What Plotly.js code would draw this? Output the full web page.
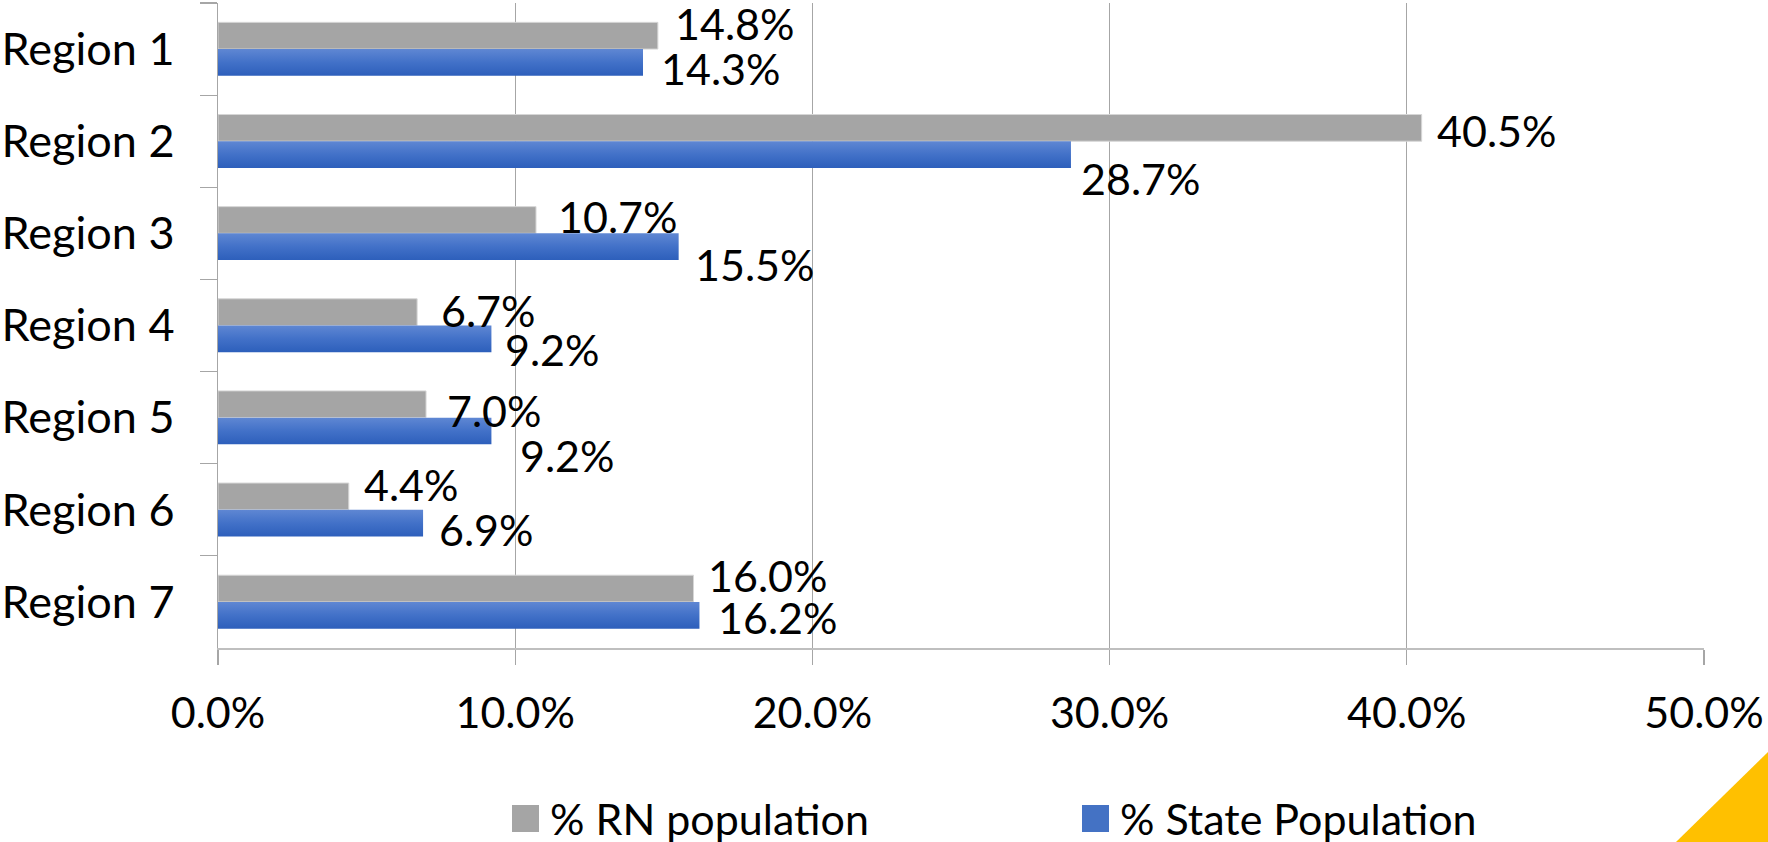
<!DOCTYPE html>
<html>
<head>
<meta charset="utf-8">
<script src="https://cdn.plot.ly/plotly-3.0.1.min.js"></script>
<style>
  html, body { margin: 0; padding: 0; background: #ffffff; }
  #chart { width: 1768px; height: 842px; }
</style>
</head>
<body>
<div id="chart"></div>
<script>
// ---------------- data ----------------
const categories = ['Region 1', 'Region 2', 'Region 3', 'Region 4', 'Region 5', 'Region 6', 'Region 7'];
const seriesNames = ['% RN population', '% State Population'];
const rnPopulation = [14.8, 40.5, 10.7, 6.7, 7.0, 4.4, 16.0];
const statePopulation = [14.3, 28.7, 15.5, 9.2, 9.2, 6.9, 16.2];
const xTickValues = [0, 10, 20, 30, 40, 50];

// ---------------- label placement (style, in pixels) ----------------
const rnLabelXShift = [15.5, 13.5, 19.5, 21.5, 18.5, 13.5, 12.5];
const rnLabelYShift = [12, -2.5, 3.5, 1.5, -6, 11.5, 13.5];
const stLabelXShift = [15.5, 8.5, 14.5, 11.5, 26.5, 13.5, 16.5];
const stLabelYShift = [-6.5, -23.5, -17.5, -10.5, -24.5, -6.5, -2];

// ---------------- style ----------------
const W = 1768, H = 842;
const M = { l: 218, r: 64, t: 3, b: 194 };
const plotW = W - M.l - M.r, plotH = H - M.t - M.b;
const BARGAP = 0.42;
const FONT = 'Lato, "Open Sans", "Liberation Sans", sans-serif';
const FS = 43;
const GRAY = '#A5A5A5', BLUE = '#4472C4', GRID = '#A6A6A6';

const px2x = px => (px - M.l) / plotW;
const px2y = py => (H - M.b - py) / plotH;

const fmt = v => v.toFixed(1) + '%';

const data = [
  {
    type: 'bar', orientation: 'h', name: seriesNames[0],
    y: categories, x: rnPopulation,
    marker: { color: GRAY, line: { color: '#D6D6D6', width: 1 } },
    hoverinfo: 'skip'
  },
  {
    type: 'bar', orientation: 'h', name: seriesNames[1],
    y: categories, x: statePopulation,
    marker: { color: BLUE, line: { width: 0 } },
    hoverinfo: 'skip'
  }
];

const half = (1 - BARGAP) / 4;
const annotations = [];
categories.forEach((c, i) => {
  annotations.push({
    xref: 'x', yref: 'y', x: rnPopulation[i], y: i - half,
    text: fmt(rnPopulation[i]), showarrow: false,
    xanchor: 'left', yanchor: 'middle',
    xshift: rnLabelXShift[i], yshift: rnLabelYShift[i],
    font: { family: FONT, size: FS, color: '#000' }
  });
  annotations.push({
    xref: 'x', yref: 'y', x: statePopulation[i], y: i + half,
    text: fmt(statePopulation[i]), showarrow: false,
    xanchor: 'left', yanchor: 'middle',
    xshift: stLabelXShift[i], yshift: stLabelYShift[i],
    font: { family: FONT, size: FS, color: '#000' }
  });
});

// manual legend (large square swatches)
const legendItems = [
  { name: seriesNames[0], color: GRAY, x0: 512, x1: 539, tx: 548 },
  { name: seriesNames[1], color: BLUE, x0: 1082, x1: 1109, tx: 1118 }
];
const legendY0 = 805, legendY1 = 832, legendYc = 818.5;
const shapes = [];
legendItems.forEach(it => {
  shapes.push({
    type: 'rect', xref: 'paper', yref: 'paper',
    x0: px2x(it.x0), x1: px2x(it.x1), y0: px2y(legendY1), y1: px2y(legendY0),
    fillcolor: it.color, line: { width: 0 }
  });
  annotations.push({
    xref: 'paper', yref: 'paper', x: px2x(it.tx), y: px2y(legendYc),
    text: it.name, showarrow: false, xanchor: 'left', yanchor: 'middle',
    font: { family: FONT, size: FS, color: '#000' }
  });
});

// decorative gold corner triangle
shapes.push({
  type: 'path', xref: 'paper', yref: 'paper',
  path: 'M ' + px2x(1676) + ',' + px2y(842) + ' L ' + px2x(1768) + ',' + px2y(842) +
        ' L ' + px2x(1768) + ',' + px2y(752) + ' Z',
  fillcolor: '#FFC000', line: { width: 0 }
});

const layout = {
  width: W, height: H,
  margin: { l: M.l, r: M.r, t: M.t, b: M.b, pad: 0 },
  paper_bgcolor: '#ffffff', plot_bgcolor: '#ffffff',
  barmode: 'group', bargap: BARGAP, bargroupgap: 0,
  showlegend: false,
  font: { family: FONT, size: FS, color: '#000' },
  xaxis: {
    range: [0, 50],
    tickvals: xTickValues,
    ticktext: xTickValues.map(fmt),
    showgrid: true, gridcolor: GRID, gridwidth: 1.2,
    zeroline: false,
    showline: true, linecolor: '#BFBFBF', linewidth: 1.5,
    ticks: 'outside', ticklen: 15, tickcolor: GRID, tickwidth: 1.2,
    ticklabelstandoff: 12,
    tickfont: { family: FONT, size: FS, color: '#000' },
    fixedrange: true
  },
  yaxis: {
    type: 'category', autorange: 'reversed',
    showgrid: false, zeroline: false,
    showline: true, linecolor: GRID, linewidth: 1.5,
    ticks: 'outside', ticklen: 17, tickson: 'boundaries', tickcolor: GRID, tickwidth: 1.2,
    ticklabelstandoff: 33,
    tickfont: { family: FONT, size: 45, color: '#000' },
    fixedrange: true
  },
  annotations: annotations,
  shapes: shapes
};

Plotly.newPlot('chart', data, layout, { displayModeBar: false, staticPlot: true }).then(gd => {
  // vertical gradient on the State Population bars
  const ns = 'http://www.w3.org/2000/svg';
  const svg = gd.querySelector('svg.main-svg');
  let defs = svg.querySelector('defs');
  if (!defs) { defs = document.createElementNS(ns, 'defs'); svg.insertBefore(defs, svg.firstChild); }
  const lg = document.createElementNS(ns, 'linearGradient');
  lg.setAttribute('id', 'stateGrad');
  lg.setAttribute('x1', '0'); lg.setAttribute('y1', '0');
  lg.setAttribute('x2', '0'); lg.setAttribute('y2', '1');
  [['0', '#5F87D3'], ['0.5', '#4271C8'], ['1', '#2D5FBB']].forEach(s => {
    const st = document.createElementNS(ns, 'stop');
    st.setAttribute('offset', s[0]); st.setAttribute('stop-color', s[1]);
    lg.appendChild(st);
  });
  defs.appendChild(lg);
  const traces = gd.querySelectorAll('.barlayer .trace');
  if (traces[1]) traces[1].querySelectorAll('path').forEach(p => { p.style.fill = 'url(#stateGrad)'; });
});
</script>
</body>
</html>
